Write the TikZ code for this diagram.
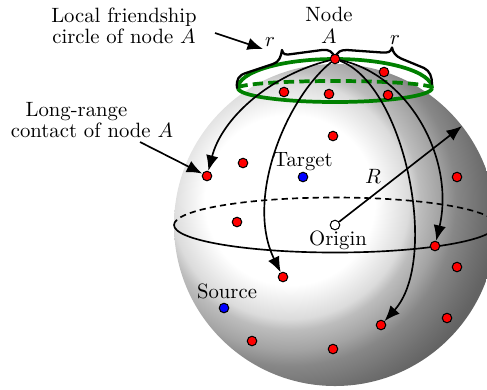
\documentclass[tikz,border=0pt]{standalone}
\usetikzlibrary{arrows.meta}
\pgfdeclareradialshading{sphereshade}{\pgfpoint{0bp}{0bp}}{%
 color(0bp)=(white); color(40.9bp)=(white); color(57.2bp)=(black!14);
 color(62.5bp)=(black!26); color(72.2bp)=(black!36); color(79.8bp)=(black!47);
 color(91.9bp)=(black!56); color(99.6bp)=(black!61); color(112bp)=(black!62)}
\begin{document}
\begin{tikzpicture}[x=0.483pt,y=0.483pt,
  dot/.style={circle, draw=black, line width=0.5pt, inner sep=0pt, minimum size=4.6pt},
  reddot/.style={dot, fill=red},
  bluedot/.style={dot, fill=blue},
  origindot/.style={dot, fill=white},
  lbl/.style={inner sep=0pt},
  arr/.style={-{Latex[length=7.5pt,width=6pt]}, line width=0.8pt},
  capline/.style={green!50!black, line width=1.8pt},
  eqline/.style={line width=0.8pt},
  bracestyle/.style={line width=1.1pt, line join=round, line cap=round}
]
\useasboundingbox (0,0) rectangle (487,-389);
% sphere
\begin{scope}
\clip (335,-225) circle[radius=161];
\node[inner sep=0pt] (shade) at (290,-200) {\pgfuseshading{sphereshade}};
\end{scope}
% equator
\draw[eqline, dash pattern=on 3pt off 2pt] (174,-225) arc[start angle=180, end angle=0, x radius=161, y radius=27.5];
\draw[eqline] (174,-225) arc[start angle=180, end angle=360, x radius=161, y radius=27.5];
% local friendship cap
\coordinate (Apos) at (335,-59);
\coordinate (capL) at (238,-88);
\coordinate (capR) at (432,-88);
\draw[capline] (capL) arc[start angle=180, end angle=0, x radius=97, y radius=29];
\draw[capline, dash pattern=on 5pt off 2.5pt] (capL) arc[start angle=180, end angle=0, x radius=97, y radius=7];
\draw[capline] (capL) arc[start angle=180, end angle=360, x radius=97, y radius=14];
% braces
\draw[bracestyle] (237,-88) .. controls (236,-79) and (239,-75) .. (246,-73) -- (273,-64)
   .. controls (279,-62) and (281,-57) .. (282,-50) .. controls (283,-55) and (286,-55) .. (292,-54)
   -- (322,-50) .. controls (329,-49) and (333,-52) .. (334,-57);
\draw[bracestyle] (336,-57) .. controls (337,-52) and (340,-50) .. (347,-50) -- (382,-52.5)
   .. controls (388,-53) and (391,-52) .. (392,-47.5) .. controls (393,-53) and (396,-56) .. (401,-58.5)
   -- (424,-68) .. controls (430,-71) and (432,-77) .. (432,-84);
% dots
\node[reddot] (A) at (Apos) {};
\node[reddot] (d2) at (384,-72) {};
\node[reddot] (d3) at (284,-92) {};
\node[reddot] (d4) at (329,-94) {};
\node[reddot] (d5) at (388,-95) {};
\node[reddot] (d6) at (333,-136) {};
\node[reddot] (d7) at (243,-163) {};
\node[reddot] (d8) at (207,-176) {};
\node[reddot] (d9) at (457,-177) {};
\node[reddot] (d10) at (237,-222) {};
\node[reddot] (d11) at (435,-246) {};
\node[reddot] (d12) at (283,-277) {};
\node[reddot] (d13) at (457,-267) {};
\node[reddot] (d14) at (252,-341) {};
\node[reddot] (d15) at (333,-349) {};
\node[reddot] (d16) at (381,-325) {};
\node[reddot] (d17) at (447,-318) {};
\node[bluedot] (tgt) at (303,-177) {};
\node[bluedot] (src) at (224,-308) {};
\node[origindot] (O) at (335,-225) {};
% labels
\node[lbl] (tgtlbl) at (303,-161.5) {Target};
\node[lbl] (srclbl) at (227,-291) {Source};
\node[lbl] (olbl) at (338,-240.5) {Origin};
\node[lbl] (Rlbl) at (373,-176) {$R$};
\node[lbl] (rL) at (270,-42) {$r$};
\node[lbl] (rR) at (395,-40) {$r$};
\node[lbl, align=center] (nodelbl) at (329,-25) {Node\\[-1.4pt]$A$};
\node[lbl, align=center] (lflbl) at (124,-26) {Local friendship\\[-2pt]circle of node $A$};
\node[lbl, align=center] (lrlbl) at (92,-120) {Long-range\hspace*{15pt}\\[-1.5pt]contact of node $A$};
% connectors
\coordinate (lfstart) at (215,-33);
\coordinate (lfend) at (263,-49);
\draw[arr] (lfstart) -- (lfend);
\coordinate (lrstart) at (140,-142);
\draw[arr] (lrstart) -- (d8);
\coordinate (Rtip) at (462,-126);
\draw[arr] (O) -- (Rtip);
\draw[arr] (A) .. controls (270,-75) and (222,-118) .. (d8);
\draw[arr] (A) .. controls (285,-100) and (245,-200) .. (d12);
\draw[arr] (A) .. controls (410,-75) and (455,-160) .. (d11);
\draw[arr] (A) .. controls (405,-85) and (440,-260) .. (d16);
\end{tikzpicture}
\end{document}
